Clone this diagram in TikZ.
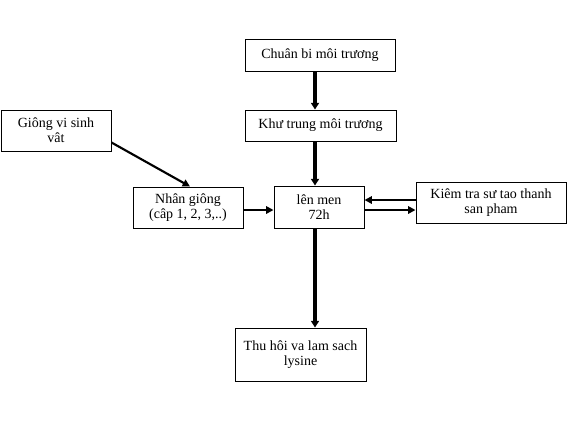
\documentclass[tikz,border=0pt]{standalone}
\usepackage{fontspec}
\setmainfont{Liberation Serif}
\usetikzlibrary{arrows.meta,calc}
\begin{document}
\begin{tikzpicture}[x=0.75pt,y=-0.75pt,
  stepbox/.style 2 args={draw, line width=0.75pt, rectangle, inner sep=0pt,
    align=center, minimum width=#1*0.75pt, minimum height=#2*0.75pt,
    font=\fontsize{10.5pt}{11.25pt}\selectfont},
  thickarrow/.style={line width=2.4pt, -{Triangle[length=5pt,width=6pt]}},
  thinarrow/.style={line width=1.6pt, -{Triangle[length=5.5pt,width=5.5pt]}}]
\useasboundingbox[fill=white] (0,0) rectangle (568,430);
\node[stepbox={150}{32}] (prep) at (320,55) {Chuân bi môi trương};
\node[stepbox={151}{31}] (steril) at (320.5,125.5) {Khư trung môi trương};
\node[stepbox={110}{41}] (strain) at (56,130.5) {Giông vi sinh\\vât};
\node[stepbox={110}{41}] (prop) at (188,207.5) {Nhân giông\\(câp 1, 2, 3,..)};
\node[stepbox={90}{42}] (ferm) at (319,207) {lên men\\72h};
\node[stepbox={150}{41}] (check) at (491,202.5) {Kiêm tra sư tao thanh\\san pham};
\node[stepbox={131}{53}] (recov) at (300.5,354.5) {Thu hôi va lam sach\\lysine};
\coordinate (colx) at (315,0);
\coordinate (rowA) at (0,200);
\coordinate (rowB) at (0,210);
\draw[thickarrow] (prep.south -| colx) -- (steril.north -| colx);
\draw[thickarrow] (steril.south -| colx) -- (ferm.north -| colx);
\draw[thickarrow] (ferm.south -| colx) -- (recov.north -| colx);
\draw[thinarrow] ($(strain.east)+(0,12)$) -- ($(prop.north)+(2,0)$);
\draw[thinarrow] (prop.east |- rowB) -- (ferm.west |- rowB);
\draw[thinarrow] (check.west |- rowA) -- (ferm.east |- rowA);
\draw[thinarrow] (ferm.east |- rowB) -- (check.west |- rowB);
\end{tikzpicture}
\end{document}
